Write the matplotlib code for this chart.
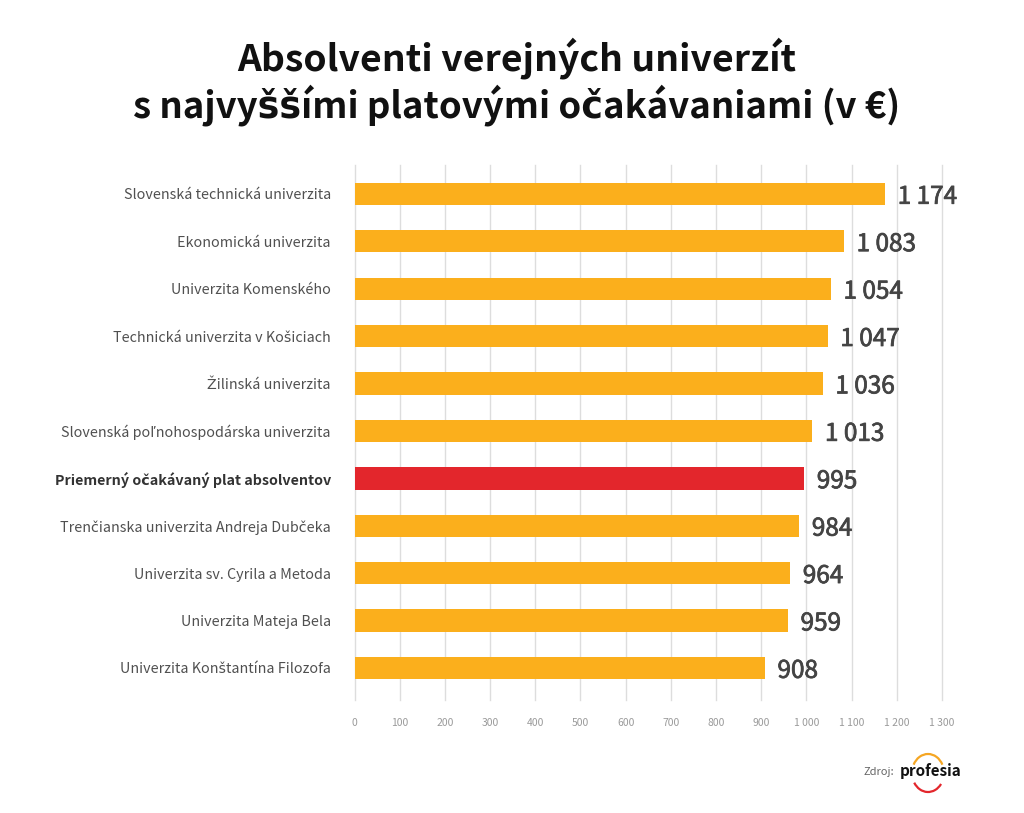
import matplotlib
matplotlib.use('Agg')
import matplotlib.pyplot as plt
import matplotlib.patheffects as pe
from matplotlib.patches import Arc

plt.rcParams['font.family'] = ['Noto Sans CJK SC', 'DejaVu Sans']

# data
universities = [
    'Slovenská technická univerzita',
    'Ekonomická univerzita',
    'Univerzita Komenského',
    'Technická univerzita v Košiciach',
    'Žilinská univerzita',
    'Slovenská poľnohospodárska univerzita',
    'Priemerný očakávaný plat absolventov',
    'Trenčianska univerzita Andreja Dubčeka',
    'Univerzita sv. Cyrila a Metoda',
    'Univerzita Mateja Bela',
    'Univerzita Konštantína Filozofa',
]
salaries = [1174, 1083, 1054, 1047, 1036, 1013, 995, 984, 964, 959, 908]
average_index = 6
xticks = list(range(0, 1301, 100))

orange = '#FBAF1C'
red = '#E3262C'

def fmt(v):
    s = str(v)
    if len(s) > 3:
        s = s[:-3] + ' ' + s[-3:]
    return s

fig = plt.figure(figsize=(10.24, 8.13), dpi=100)
W, H = 1024, 813
ax = fig.add_axes([354.5 / W, 1 - 700 / H, (942 - 354.5) / W, (700 - 165) / H])

colors = [red if i == average_index else orange for i in range(len(salaries))]
ypos = list(range(len(salaries)))
ax.barh(ypos, salaries, height=0.47, color=colors, zorder=3)

# value labels, a bit heavier than regular
for i, v in enumerate(salaries):
    ax.text(v + 28, i + 0.06, fmt(v), va='center', ha='left', fontsize=17.5,
            color='#444444',
            path_effects=[pe.withStroke(linewidth=0.55, foreground='#444444')])

ax.set_xlim(0, 1300)
ax.set_ylim(10.675, -0.61)
ax.set_xticks(xticks)
ax.set_xticklabels([fmt(t) for t in xticks], fontsize=7.5, color='#9a9a9a')
ax.set_yticks(ypos)
ax.set_yticklabels(universities, fontsize=10.3, color='#505050')
for i, lab in enumerate(ax.get_yticklabels()):
    if i == average_index:
        lab.set_fontweight('bold')
        lab.set_color('#333333')
ax.tick_params(axis='both', length=0)
ax.tick_params(axis='y', pad=17)
ax.tick_params(axis='x', pad=13)
ax.grid(axis='x', color='#dddddd', linewidth=1, zorder=0)
for gl in ax.get_xgridlines():
    gl.set_clip_on(False)
for s in ax.spines.values():
    s.set_visible(False)

fig.text(517 / W, 1 - 58 / H, 'Absolventi verejných univerzít', ha='center', va='center',
         fontsize=26.8, fontweight='bold', color='#111111')
fig.text(517 / W, 1 - 105 / H, 's najvyššími platovými očakávaniami (v €)', ha='center', va='center',
         fontsize=26.3, fontweight='bold', color='#111111')

# source / logo
fig.text(894 / W, 1 - 772 / H, 'Zdroj:', ha='right', va='center', fontsize=8, color='#666666')
fig.text(900 / W, 1 - 771 / H, 'profesia', ha='left', va='center', fontsize=11,
         fontweight='bold', color='#111111')
lax = fig.add_axes([903 / W, 1 - 795 / H, 50 / W, 45 / H])
lax.set_xlim(0, 50)
lax.set_ylim(0, 45)
lax.axis('off')
lax.add_patch(Arc((25, 22), 32, 38, theta1=30, theta2=150, color='#F5A623', lw=1.6))
lax.add_patch(Arc((25, 22), 32, 38, theta1=215, theta2=320, color='#E3262C', lw=1.6))

fig.savefig('out.png', dpi=100, facecolor='white')
